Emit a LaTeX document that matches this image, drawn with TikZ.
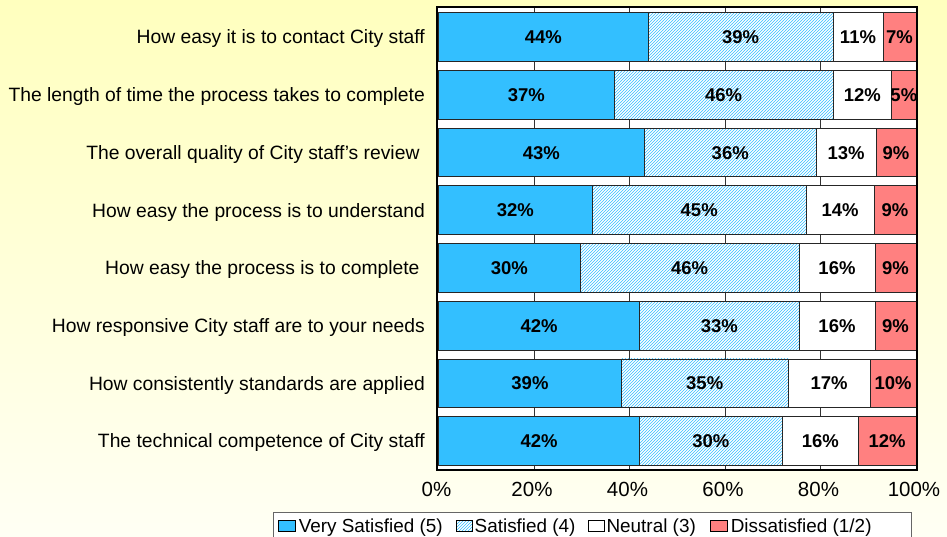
\documentclass[tikz,border=0pt]{standalone}
\usepackage{fontspec}
\setmainfont{Liberation Sans}
\usetikzlibrary{patterns,
positioning}

\definecolor{vsblue}{RGB}{51,191,255}
\definecolor{dsred}{RGB}{255,128,128}
\definecolor{bgyellow}{RGB}{255,255,190}
\definecolor{bgpale}{RGB}{255,255,244}

\begin{document}
\begin{tikzpicture} [x=1pt, y=-1pt,
    every node/.style={inner sep=0pt},
    cat label/.style={anchor=east, text height=13.8pt, text depth=0pt,
        font=\fontsize{19.3}{22}\selectfont},
    pct label/.style={text height=13.2pt, text depth=0pt,
        font=\fontsize{18.5}{22}\selectfont\bfseries},
    tick label/.style={text height=14.7pt, text depth=0pt,
        font=\fontsize{20.5}{24}\selectfont},
    key label/.style={text height=13.5pt, text depth=0pt,
        font=\fontsize{18.9}{22}\selectfont},
    seg/.style={draw=black!85, line width=0.8pt},
    vs seg/.style={seg, fill=vsblue},
    sat seg/.style={seg, preaction={fill=white}, pattern=north east lines, pattern color=vsblue},
    neu seg/.style={seg, fill=white},
    dis seg/.style={seg, fill=dsred},
    key box/.style={minimum width=17pt, minimum height=11pt, draw=black, line width=0.6pt}]

  \useasboundingbox (0,0) rectangle (947,537);
  \clip (0,0) rectangle (947,537);
  \shade [top color=bgyellow, bottom color=bgpale] (0,0) rectangle (947,537);

  \def \xzero{438.5}
  \def \pxper{4.775}

  % plot area
  \fill [white] (437,7.5) rectangle (917,470);
  \foreach \k in {1,...,4}{
      \draw [black!80, line width=0.7pt] ({\xzero+20*\k*\pxper},7.5) -- ({\xzero+20*\k*\pxper},470);
    }

  \foreach \q [count=\i] in {How easy it is to contact City staff,
      The length of time the process takes to complete,
      The overall quality of City staff’s review\kern5.3pt,
      How easy the process is to understand,
      How easy the process is to complete\kern5.3pt,
      How responsive City staff are to your needs,
      How consistently standards are applied,
      The technical competence of City staff}{
      \node [cat label] (cat\i) at (425, {37.05+57.71*(\i-1)}) {\q};
    }

  % stacked bars
  \foreach \a/\b/\c/\pa/\pb/\pc/\pd [count=\i] in {
      43.9/82.6/93.1/44/39/11/7,
      36.8/82.6/94.9/37/46/12/5,
      43.1/79.1/91.6/43/36/13/9,
      32.2/77.0/91.2/32/45/14/9,
      29.7/75.5/91.4/30/46/16/9,
      42.1/75.5/91.4/42/33/16/9,
      38.3/73.2/90.4/39/35/17/10,
      42.1/72.0/87.9/42/30/16/12}{
      \pgfmathsetmacro{\yt}{12.7+57.71*(\i-1)}
      \pgfmathsetmacro{\yb}{\yt+48.7}
      \pgfmathsetmacro{\ym}{\yt+24.35}

      \draw [vs seg] (\xzero,\yt) rectangle ({\xzero+\a*\pxper},\yb);
      \draw [sat seg] ({\xzero+\a*\pxper},\yt) rectangle ({\xzero+\b*\pxper},\yb);
      \draw [neu seg] ({\xzero+\b*\pxper},\yt) rectangle ({\xzero+\c*\pxper},\yb);
      \draw [dis seg] ({\xzero+\c*\pxper},\yt) rectangle ({\xzero+100*\pxper},\yb);

      \node [pct label] (vs\i) at ({\xzero+\a/2*\pxper},\ym) {\pa\%};
      \node [pct label] (sat\i) at ({\xzero+(\a+\b)/2*\pxper},\ym) {\pb\%};
      \node [pct label] (neu\i) at ({\xzero+(\b+\c)/2*\pxper},\ym) {\pc\%};
      \node [pct label] (dis\i) at ({\xzero+(\c+100)/2*\pxper},\ym) {\pd\%};
    }

  \draw [line width=2pt] (437,7.5) rectangle (917,470);

  % axis
  \foreach \k in {0,...,5}{
      \pgfmathtruncatemacro{\v}{20*\k}
      \node [tick label] (tick\k) at ({\xzero+20*\k*\pxper-2},489) {\v\%};
    }

  % legend
  \draw [draw=black!60, fill=white, line width=0.8pt] (273,512) rectangle (911,560);

  \node [key box, fill=vsblue, anchor=west] (vskey) at (278,526) {};
  \node [key label, right=3pt of vskey] (vstext) {Very Satisfied (5)};

  \node [key box, preaction={fill=white}, pattern=north east lines, pattern color=vsblue,
    minimum width=16pt, right=13pt of vstext] (satkey) {};
  \node [key label, right=2pt of satkey] (sattext) {Satisfied (4)};

  \node [key box, fill=white, minimum width=16pt, right=12pt of sattext] (neukey) {};
  \node [key label, right=2pt of neukey] (neutext) {Neutral (3)};

  \node [key box, fill=dsred, right=14pt of neutext] (diskey) {};
  \node [key label, right=3pt of diskey] (distext) {Dissatisfied (1/2)};

\end{tikzpicture}
\end{document}
